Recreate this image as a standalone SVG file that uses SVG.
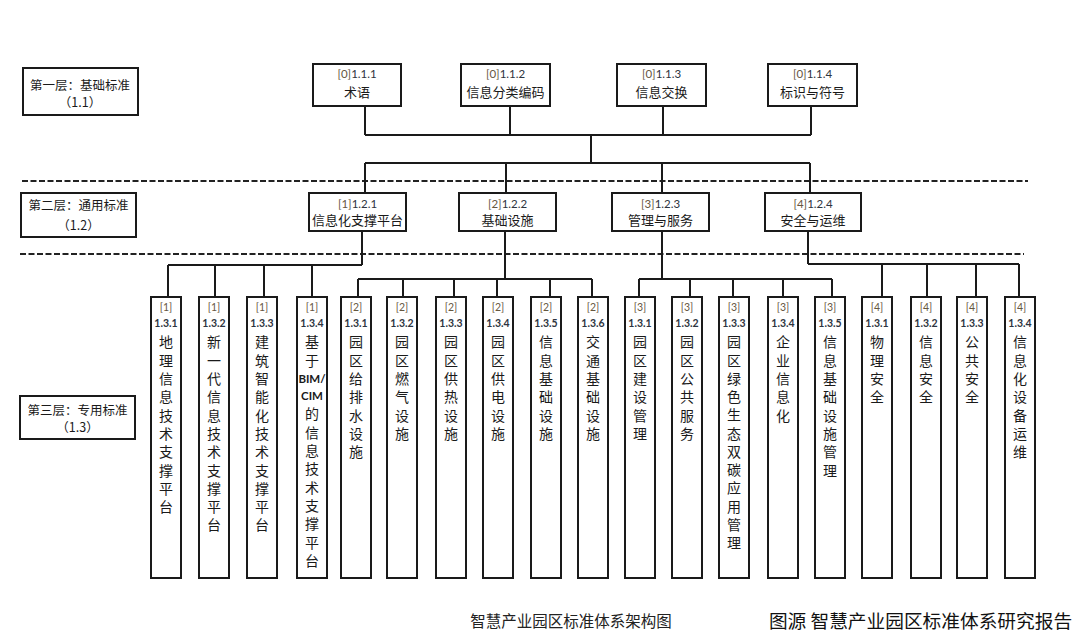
<svg xmlns="http://www.w3.org/2000/svg" width="1080" height="636" viewBox="0 0 1080 636">
<style>
.bg{fill:#fff}
.box{fill:#fff;stroke:#1a1a1a;stroke-width:2}
.ln{fill:none;stroke:#1a1a1a;stroke-width:2}
.dash{fill:none;stroke:#222;stroke-width:1.8;stroke-dasharray:6 2.5}
.cn{font-family:"Noto Sans CJK SC","Noto Sans",sans-serif;fill:#1a1a1a;text-anchor:middle}
.lay{font-size:12.5px}
.nd{font-size:13px}
.col{font-size:14px}
.num{font-family:Lato,"Liberation Sans",sans-serif;fill:#2e3440;text-anchor:middle}
.tag{fill:#66573f}
.n1{font-size:11.5px}
.n3{font-size:10.5px;font-weight:bold}
.t3{font-size:10.5px}
.cap1{font-size:15.5px}
.cap2{font-size:18.7px}
</style>
<rect class="bg" x="0" y="0" width="1080" height="636"/>

<g id="connectors">
<path class="dash" d="M22 181H1028"/>
<path class="dash" d="M20 254H1024"/>
<path class="ln" d="M365 106V135M510 106V135M663 106V135M811 106V135M365 135H811"/>
<path class="ln" d="M591 135V163M365 163H810M365 163V193M506 163V193M662 163V193M810 163V193"/>
<path class="ln" d="M362 231V265M168 265H362M168 265V297M215 265V297M264 265V297M312 265V297"/>
<path class="ln" d="M505 231V279M358 279H592M358 279V297M403 279V297M454 279V297M497 279V297M550 279V297M592 279V297"/>
<path class="ln" d="M662 231V279M639 279H832M639 279V297M690 279V297M733 279V297M783 279V297M832 279V297"/>
<path class="ln" d="M808 231V264M808 264H1019M882 264V297M927 264V297M976 264V297M1019 264V297"/>
</g>

<g id="layer1">
<rect class="box" x="23" y="68" width="115" height="47"/>
<text class="cn lay" x="80" y="89.5">第一层：基础标准</text>
<text class="cn lay" x="80" y="107">（1.1）</text>
</g>
<g id="layer2">
<rect class="box" x="21" y="193" width="115" height="44"/>
<text class="cn lay" x="78.5" y="209.5">第二层：通用标准</text>
<text class="cn lay" x="78.5" y="229.5">（1.2）</text>
</g>
<g id="layer3">
<rect class="box" x="20" y="396" width="115" height="43"/>
<text class="cn lay" x="77.5" y="414.5">第三层：专用标准</text>
<text class="cn lay" x="77.5" y="432">（1.3）</text>
</g>

<g id="n111"><rect class="box" x="313" y="64" width="88" height="42"/>
<text class="num n1" x="357" y="78"><tspan class="tag">[0]</tspan>1.1.1</text>
<text class="cn nd" x="357" y="97.4">术语</text></g>
<g id="n112"><rect class="box" x="461" y="64" width="89" height="42"/>
<text class="num n1" x="505.5" y="78"><tspan class="tag">[0]</tspan>1.1.2</text>
<text class="cn nd" x="505.5" y="97.4">信息分类编码</text></g>
<g id="n113"><rect class="box" x="617" y="64" width="89" height="42"/>
<text class="num n1" x="661.5" y="78"><tspan class="tag">[0]</tspan>1.1.3</text>
<text class="cn nd" x="661.5" y="97.4">信息交换</text></g>
<g id="n114"><rect class="box" x="768" y="64" width="89" height="42"/>
<text class="num n1" x="812.5" y="78"><tspan class="tag">[0]</tspan>1.1.4</text>
<text class="cn nd" x="812.5" y="97.4">标识与符号</text></g>

<g id="n121"><rect class="box" x="309" y="193" width="97" height="38"/>
<text class="num n1" x="357.5" y="207.5"><tspan class="tag">[1]</tspan>1.2.1</text>
<text class="cn nd" x="357.5" y="224.7">信息化支撑平台</text></g>
<g id="n122"><rect class="box" x="459" y="193" width="97" height="38"/>
<text class="num n1" x="507.5" y="207.5"><tspan class="tag">[2]</tspan>1.2.2</text>
<text class="cn nd" x="507.5" y="224.7">基础设施</text></g>
<g id="n123"><rect class="box" x="612" y="193" width="97" height="38"/>
<text class="num n1" x="660.5" y="207.5"><tspan class="tag">[3]</tspan>1.2.3</text>
<text class="cn nd" x="660.5" y="224.7">管理与服务</text></g>
<g id="n124"><rect class="box" x="765" y="193" width="96" height="38"/>
<text class="num n1" x="813" y="207.5"><tspan class="tag">[4]</tspan>1.2.4</text>
<text class="cn nd" x="813" y="224.7">安全与运维</text></g>

<g id="c1_131"><rect class="box" x="151" y="297" width="30" height="281"/>
<text class="num t3 tag" x="166" y="310.7">[1]</text><text class="num n3" x="166" y="327">1.3.1</text>
<text class="cn col" x="166" y="347.4"><tspan x="166">地</tspan><tspan x="166" dy="18.3">理</tspan><tspan x="166" dy="18.3">信</tspan><tspan x="166" dy="18.3">息</tspan><tspan x="166" dy="18.3">技</tspan><tspan x="166" dy="18.3">术</tspan><tspan x="166" dy="18.3">支</tspan><tspan x="166" dy="18.3">撑</tspan><tspan x="166" dy="18.3">平</tspan><tspan x="166" dy="18.3">台</tspan></text></g>
<g id="c1_132"><rect class="box" x="199" y="297" width="30" height="281"/>
<text class="num t3 tag" x="214" y="310.7">[1]</text><text class="num n3" x="214" y="327">1.3.2</text>
<text class="cn col" x="214" y="347.4"><tspan x="214">新</tspan><tspan x="214" dy="18.3">一</tspan><tspan x="214" dy="18.3">代</tspan><tspan x="214" dy="18.3">信</tspan><tspan x="214" dy="18.3">息</tspan><tspan x="214" dy="18.3">技</tspan><tspan x="214" dy="18.3">术</tspan><tspan x="214" dy="18.3">支</tspan><tspan x="214" dy="18.3">撑</tspan><tspan x="214" dy="18.3">平</tspan><tspan x="214" dy="18.3">台</tspan></text></g>
<g id="c1_133"><rect class="box" x="247" y="297" width="30" height="281"/>
<text class="num t3 tag" x="262" y="310.7">[1]</text><text class="num n3" x="262" y="327">1.3.3</text>
<text class="cn col" x="262" y="347.4"><tspan x="262">建</tspan><tspan x="262" dy="18.3">筑</tspan><tspan x="262" dy="18.3">智</tspan><tspan x="262" dy="18.3">能</tspan><tspan x="262" dy="18.3">化</tspan><tspan x="262" dy="18.3">技</tspan><tspan x="262" dy="18.3">术</tspan><tspan x="262" dy="18.3">支</tspan><tspan x="262" dy="18.3">撑</tspan><tspan x="262" dy="18.3">平</tspan><tspan x="262" dy="18.3">台</tspan></text></g>
<g id="c1_134"><rect class="box" x="297" y="297" width="30" height="281"/>
<text class="num t3 tag" x="312" y="310.7">[1]</text><text class="num n3" x="312" y="327">1.3.4</text>
<text class="cn col" x="312" y="347.4"><tspan x="312">基</tspan><tspan x="312" dy="18.3">于</tspan></text>
<text class="num" x="312" y="382.5" style="font-size:11.5px;font-weight:bold;fill:#1a1a1a">BIM/</text>
<text class="num" x="312" y="400" style="font-size:11.5px;font-weight:bold;fill:#1a1a1a">CIM</text>
<text class="cn col" x="312" y="419.4"><tspan x="312">的</tspan><tspan x="312" dy="18.3">信</tspan><tspan x="312" dy="18.3">息</tspan><tspan x="312" dy="18.3">技</tspan><tspan x="312" dy="18.3">术</tspan><tspan x="312" dy="18.3">支</tspan><tspan x="312" dy="18.3">撑</tspan><tspan x="312" dy="18.3">平</tspan><tspan x="312" dy="18.3">台</tspan></text></g>

<g id="c2_131"><rect class="box" x="341" y="297" width="30" height="281"/>
<text class="num t3 tag" x="356" y="310.7">[2]</text><text class="num n3" x="356" y="327">1.3.1</text>
<text class="cn col" x="356" y="347.4"><tspan x="356">园</tspan><tspan x="356" dy="18.3">区</tspan><tspan x="356" dy="18.3">给</tspan><tspan x="356" dy="18.3">排</tspan><tspan x="356" dy="18.3">水</tspan><tspan x="356" dy="18.3">设</tspan><tspan x="356" dy="18.3">施</tspan></text></g>
<g id="c2_132"><rect class="box" x="387" y="297" width="30" height="281"/>
<text class="num t3 tag" x="402" y="310.7">[2]</text><text class="num n3" x="402" y="327">1.3.2</text>
<text class="cn col" x="402" y="347.4"><tspan x="402">园</tspan><tspan x="402" dy="18.3">区</tspan><tspan x="402" dy="18.3">燃</tspan><tspan x="402" dy="18.3">气</tspan><tspan x="402" dy="18.3">设</tspan><tspan x="402" dy="18.3">施</tspan></text></g>
<g id="c2_133"><rect class="box" x="436" y="297" width="30" height="281"/>
<text class="num t3 tag" x="451" y="310.7">[2]</text><text class="num n3" x="451" y="327">1.3.3</text>
<text class="cn col" x="451" y="347.4"><tspan x="451">园</tspan><tspan x="451" dy="18.3">区</tspan><tspan x="451" dy="18.3">供</tspan><tspan x="451" dy="18.3">热</tspan><tspan x="451" dy="18.3">设</tspan><tspan x="451" dy="18.3">施</tspan></text></g>
<g id="c2_134"><rect class="box" x="483" y="297" width="30" height="281"/>
<text class="num t3 tag" x="498" y="310.7">[2]</text><text class="num n3" x="498" y="327">1.3.4</text>
<text class="cn col" x="498" y="347.4"><tspan x="498">园</tspan><tspan x="498" dy="18.3">区</tspan><tspan x="498" dy="18.3">供</tspan><tspan x="498" dy="18.3">电</tspan><tspan x="498" dy="18.3">设</tspan><tspan x="498" dy="18.3">施</tspan></text></g>
<g id="c2_135"><rect class="box" x="531" y="297" width="30" height="281"/>
<text class="num t3 tag" x="546" y="310.7">[2]</text><text class="num n3" x="546" y="327">1.3.5</text>
<text class="cn col" x="546" y="347.4"><tspan x="546">信</tspan><tspan x="546" dy="18.3">息</tspan><tspan x="546" dy="18.3">基</tspan><tspan x="546" dy="18.3">础</tspan><tspan x="546" dy="18.3">设</tspan><tspan x="546" dy="18.3">施</tspan></text></g>
<g id="c2_136"><rect class="box" x="578" y="297" width="30" height="281"/>
<text class="num t3 tag" x="593" y="310.7">[2]</text><text class="num n3" x="593" y="327">1.3.6</text>
<text class="cn col" x="593" y="347.4"><tspan x="593">交</tspan><tspan x="593" dy="18.3">通</tspan><tspan x="593" dy="18.3">基</tspan><tspan x="593" dy="18.3">础</tspan><tspan x="593" dy="18.3">设</tspan><tspan x="593" dy="18.3">施</tspan></text></g>

<g id="c3_131"><rect class="box" x="625" y="297" width="30" height="281"/>
<text class="num t3 tag" x="640" y="310.7">[3]</text><text class="num n3" x="640" y="327">1.3.1</text>
<text class="cn col" x="640" y="347.4"><tspan x="640">园</tspan><tspan x="640" dy="18.3">区</tspan><tspan x="640" dy="18.3">建</tspan><tspan x="640" dy="18.3">设</tspan><tspan x="640" dy="18.3">管</tspan><tspan x="640" dy="18.3">理</tspan></text></g>
<g id="c3_132"><rect class="box" x="672" y="297" width="30" height="281"/>
<text class="num t3 tag" x="687" y="310.7">[3]</text><text class="num n3" x="687" y="327">1.3.2</text>
<text class="cn col" x="687" y="347.4"><tspan x="687">园</tspan><tspan x="687" dy="18.3">区</tspan><tspan x="687" dy="18.3">公</tspan><tspan x="687" dy="18.3">共</tspan><tspan x="687" dy="18.3">服</tspan><tspan x="687" dy="18.3">务</tspan></text></g>
<g id="c3_133"><rect class="box" x="719" y="297" width="30" height="281"/>
<text class="num t3 tag" x="734" y="310.7">[3]</text><text class="num n3" x="734" y="327">1.3.3</text>
<text class="cn col" x="734" y="347.4"><tspan x="734">园</tspan><tspan x="734" dy="18.25">区</tspan><tspan x="734" dy="18.25">绿</tspan><tspan x="734" dy="18.25">色</tspan><tspan x="734" dy="18.25">生</tspan><tspan x="734" dy="18.25">态</tspan><tspan x="734" dy="18.25">双</tspan><tspan x="734" dy="18.25">碳</tspan><tspan x="734" dy="18.25">应</tspan><tspan x="734" dy="18.25">用</tspan><tspan x="734" dy="18.25">管</tspan><tspan x="734" dy="18.25">理</tspan></text></g>
<g id="c3_134"><rect class="box" x="768" y="297" width="30" height="281"/>
<text class="num t3 tag" x="783" y="310.7">[3]</text><text class="num n3" x="783" y="327">1.3.4</text>
<text class="cn col" x="783" y="347.4"><tspan x="783">企</tspan><tspan x="783" dy="18.3">业</tspan><tspan x="783" dy="18.3">信</tspan><tspan x="783" dy="18.3">息</tspan><tspan x="783" dy="18.3">化</tspan></text></g>
<g id="c3_135"><rect class="box" x="815" y="297" width="30" height="281"/>
<text class="num t3 tag" x="830" y="310.7">[3]</text><text class="num n3" x="830" y="327">1.3.5</text>
<text class="cn col" x="830" y="347.4"><tspan x="830">信</tspan><tspan x="830" dy="18.3">息</tspan><tspan x="830" dy="18.3">基</tspan><tspan x="830" dy="18.3">础</tspan><tspan x="830" dy="18.3">设</tspan><tspan x="830" dy="18.3">施</tspan><tspan x="830" dy="18.3">管</tspan><tspan x="830" dy="18.3">理</tspan></text></g>

<g id="c4_131"><rect class="box" x="862" y="297" width="30" height="281"/>
<text class="num t3 tag" x="877" y="310.7">[4]</text><text class="num n3" x="877" y="327">1.3.1</text>
<text class="cn col" x="877" y="347.4"><tspan x="877">物</tspan><tspan x="877" dy="18.3">理</tspan><tspan x="877" dy="18.3">安</tspan><tspan x="877" dy="18.3">全</tspan></text></g>
<g id="c4_132"><rect class="box" x="911" y="297" width="30" height="281"/>
<text class="num t3 tag" x="926" y="310.7">[4]</text><text class="num n3" x="926" y="327">1.3.2</text>
<text class="cn col" x="926" y="347.4"><tspan x="926">信</tspan><tspan x="926" dy="18.3">息</tspan><tspan x="926" dy="18.3">安</tspan><tspan x="926" dy="18.3">全</tspan></text></g>
<g id="c4_133"><rect class="box" x="957" y="297" width="30" height="281"/>
<text class="num t3 tag" x="972" y="310.7">[4]</text><text class="num n3" x="972" y="327">1.3.3</text>
<text class="cn col" x="972" y="347.4"><tspan x="972">公</tspan><tspan x="972" dy="18.3">共</tspan><tspan x="972" dy="18.3">安</tspan><tspan x="972" dy="18.3">全</tspan></text></g>
<g id="c4_134"><rect class="box" x="1005" y="297" width="30" height="281"/>
<text class="num t3 tag" x="1020" y="310.7">[4]</text><text class="num n3" x="1020" y="327">1.3.4</text>
<text class="cn col" x="1020" y="347.4"><tspan x="1020">信</tspan><tspan x="1020" dy="18.3">息</tspan><tspan x="1020" dy="18.3">化</tspan><tspan x="1020" dy="18.3">设</tspan><tspan x="1020" dy="18.3">备</tspan><tspan x="1020" dy="18.3">运</tspan><tspan x="1020" dy="18.3">维</tspan></text></g>

<g id="captions">
<text class="cn cap1" x="571" y="627" style="fill:#222">智慧产业园区标准体系架构图</text>
<text class="cn cap2" x="920.5" y="628" style="fill:#111">图源 智慧产业园区标准体系研究报告</text>
</g>
</svg>
